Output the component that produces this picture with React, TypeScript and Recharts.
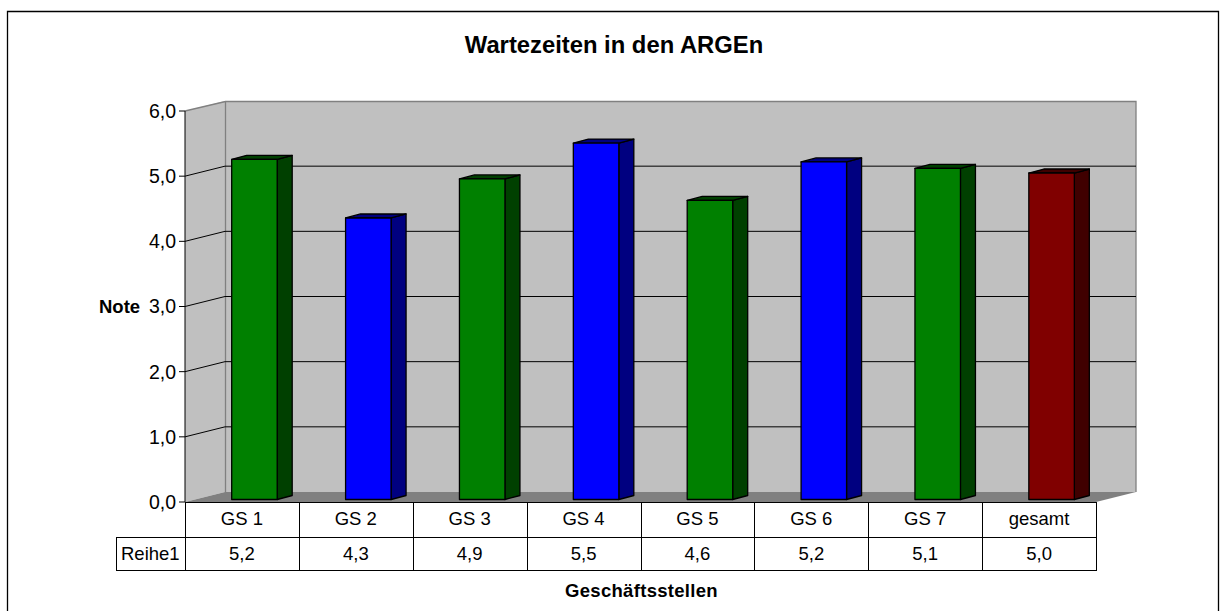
import { BarChart, Bar, XAxis, YAxis, CartesianGrid, Cell, usePlotArea } from "recharts";

const categories = ["GS 1", "GS 2", "GS 3", "GS 4", "GS 5", "GS 6", "GS 7", "gesamt"];
const noteValues = [5.22, 4.32, 4.92, 5.47, 4.59, 5.18, 5.08, 5.01];
const barColors = ["#008000", "#0000ff", "#008000", "#0000ff", "#008000", "#0000ff", "#008000", "#800000"];
const sideColors = ["#004000", "#000080", "#004000", "#000080", "#004000", "#000080", "#004000", "#400000"];
const yTicks = [0, 1, 2, 3, 4, 5, 6];
const seriesName = "Reihe1";

const data = categories.map((name, i) => ({ name, note: noteValues[i] }));

const FONT = "'Liberation Sans', Arial, sans-serif";
const WALL_DX = 40;
const WALL_DY = 10;
const BAR_DX = 15;
const BAR_DY = 4;
const BAR_SHIFT_X = 12.7;
const BAR_SHIFT_Y = 2.5;
const ROW_1 = 35;
const ROW_2 = 68;
const BAND = 911 / 8;

const comma = (v: number) => v.toFixed(1).replace(".", ",");

// Rueckwand, Seitenwand und Boden
const Walls = () => {
  const plot = usePlotArea();
  if (!plot) return null;
  const { x, y, width, height } = plot;
  const b = y + height;
  const r = x + width;
  const bx = x + WALL_DX + 0.5;
  const by = y - WALL_DY + 0.5;
  return (
    <g>
      <polygon
        points={`${x},${y} ${x + WALL_DX},${y - WALL_DY} ${x + WALL_DX},${b - WALL_DY} ${x},${b}`}
        fill="#c0c0c0"
      />
      <rect x={x + WALL_DX} y={y - WALL_DY} width={width} height={height} fill="#c0c0c0" />
      <polygon
        points={`${x},${b} ${x + WALL_DX},${b - WALL_DY} ${r + WALL_DX},${b - WALL_DY} ${r},${b}`}
        fill="#808080"
      />
      <path
        d={`M${x},${y} L${bx},${by} L${r + WALL_DX},${by} L${r + WALL_DX},${b - WALL_DY} M${bx},${by} L${bx},${b - WALL_DY}`}
        fill="none"
        stroke="#808080"
        strokeWidth={1.3}
      />
    </g>
  );
};

const WallLayer = (props: any) => (props.index === 0 ? <Walls key="walls" /> : <g key={props.index} />);

const GridLine = (props: any) => {
  const { x1, x2, y1, index } = props;
  // oberste Linie gehoert zur Wand, unterste ist die Tabelle
  if (y1 <= 112 || y1 >= 501) return <g key={index} />;
  return (
    <path
      key={index}
      d={`M${x1},${y1} L${x1 + WALL_DX},${y1 - WALL_DY} L${x2 + WALL_DX},${y1 - WALL_DY}`}
      fill="none"
      stroke="#000"
      strokeWidth={1}
    />
  );
};

const Bar3D = (props: any) => {
  const { x, y, width, height, index, fill } = props;
  const left = x + BAR_SHIFT_X;
  const right = left + width;
  const top = y - BAR_SHIFT_Y;
  const bottom = top + height;
  return (
    <g stroke="#000" strokeWidth={1.3} strokeLinejoin="round">
      <polygon
        points={`${right},${top} ${right + BAR_DX},${top - BAR_DY} ${right + BAR_DX},${bottom - BAR_DY} ${right},${bottom}`}
        fill={sideColors[index]}
      />
      <polygon
        points={`${left},${top} ${left + BAR_DX},${top - BAR_DY} ${right + BAR_DX},${top - BAR_DY} ${right},${top}`}
        fill={sideColors[index]}
      />
      <rect x={left} y={top} width={width} height={height} fill={fill} />
    </g>
  );
};

// Datentabelle unter dem Diagramm, eine Spalte pro Tick
const TableTick = (props: any) => {
  const { x, y, payload, index } = props;
  const left = Math.round(x - BAND / 2) + 0.5;
  const right = Math.round(x + BAND / 2) + 0.5;
  const top = Math.round(y) + 0.5;
  return (
    <g>
      <rect x={left} y={top} width={right - left} height={ROW_1} fill="#fff" stroke="#000" />
      <rect x={left} y={top + ROW_1} width={right - left} height={ROW_2 - ROW_1} fill="#fff" stroke="#000" />
      <text x={x} y={y + 23} textAnchor="middle" fontSize={18.5} fontFamily={FONT} fill="#000">
        {payload.value}
      </text>
      <text x={x} y={y + 58} textAnchor="middle" fontSize={18.5} fontFamily={FONT} fill="#000">
        {comma(noteValues[index])}
      </text>
      {index === 0 && (
        <g>
          <rect x={116.5} y={top + ROW_1} width={left - 116.5} height={ROW_2 - ROW_1} fill="#fff" stroke="#000" />
          <text x={121} y={y + 58} fontSize={18.5} fontFamily={FONT} fill="#000">
            {seriesName}
          </text>
        </g>
      )}
    </g>
  );
};

export default function App() {
  return (
    <div style={{ position: "absolute", left: 0, top: 0, width: 1220, height: 611, background: "#fff" }}>
      <BarChart
        width={1220}
        height={611}
        data={data}
        margin={{ top: 111, right: 124, bottom: 1, left: 85 }}
        barSize={45.5}
      >
        <path d="M7.5,611 L7.5,11.5 L1218.5,11.5 L1218.5,611" fill="none" stroke="#000" strokeWidth={1.3} />
        <CartesianGrid vertical={false} horizontal={WallLayer} />
        <CartesianGrid vertical={false} horizontal={GridLine} />
        <XAxis
          dataKey="name"
          interval={0}
          tick={TableTick}
          tickLine={false}
          axisLine={false}
          tickSize={0}
          tickMargin={0}
          height={108}
        />
        <YAxis
          domain={[0, 6]}
          ticks={yTicks}
          width={100}
          tickFormatter={comma}
          tick={{ fontSize: 19.5, fontFamily: FONT, fill: "#000" }}
          tickLine={{ stroke: "#000" }}
          tickSize={6}
          tickMargin={3}
          axisLine={{ stroke: "#000" }}
        />
        <Bar dataKey="note" isAnimationActive={false} shape={Bar3D}>
          {categories.map((c, i) => (
            <Cell key={c} fill={barColors[i]} />
          ))}
        </Bar>
        <text x={614} y={53} textAnchor="middle" fontSize={23.8} fontWeight="bold" fontFamily={FONT} fill="#000">
          Wartezeiten in den ARGEn
        </text>
        <text x={99} y={313} fontSize={18.5} fontWeight="bold" fontFamily={FONT} fill="#000">
          Note
        </text>
        <text x={641.5} y={597} textAnchor="middle" fontSize={18.5} letterSpacing={0.3} fontWeight="bold" fontFamily={FONT} fill="#000">
          Geschäftsstellen
        </text>
      </BarChart>
    </div>
  );
}
